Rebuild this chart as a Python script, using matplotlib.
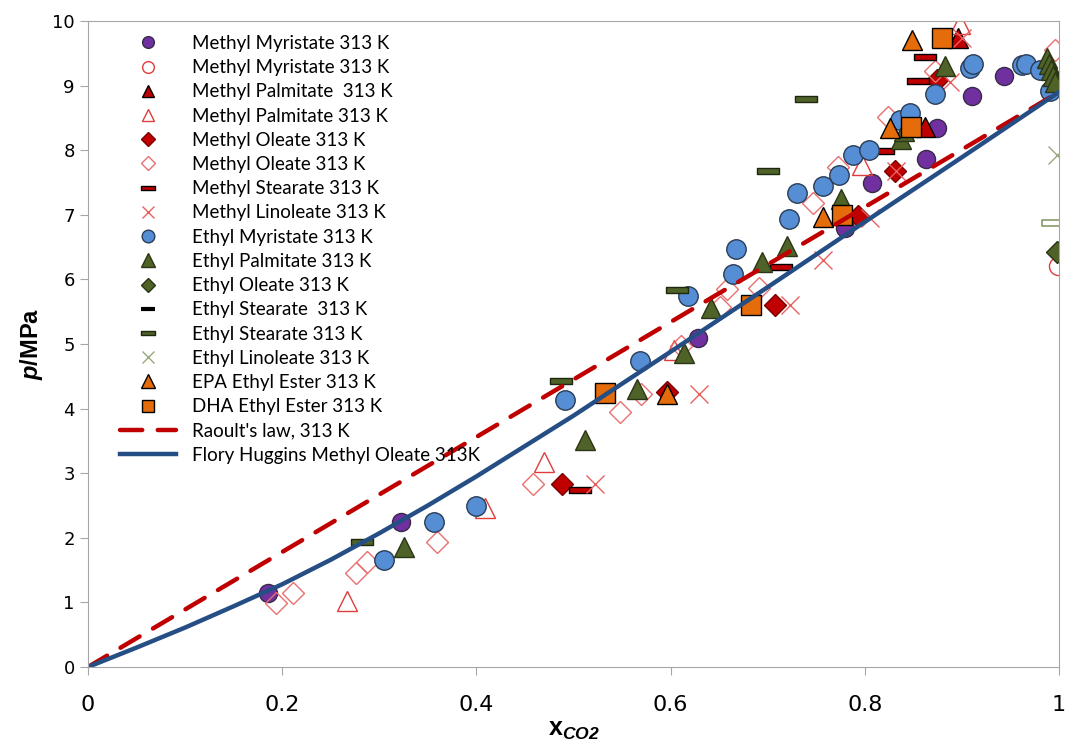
import matplotlib
matplotlib.use('Agg')
import matplotlib.pyplot as plt
from matplotlib.path import Path

plt.rcParams['mathtext.fontset'] = 'custom'
plt.rcParams['mathtext.rm'] = 'Liberation Sans'
plt.rcParams['mathtext.bf'] = 'Liberation Sans:bold'
plt.rcParams['mathtext.it'] = 'Liberation Sans:italic'
plt.rcParams['mathtext.bfit'] = 'Liberation Sans:italic:bold'

# data
mm_x = [0.185, 0.322, 0.628, 0.780, 0.807, 0.863, 0.874, 0.910, 0.943]
mm_y = [1.15, 2.25, 5.09, 6.79, 7.49, 7.86, 8.35, 8.84, 9.15]
mm2_x = [0.999]
mm2_y = [6.20]
mp_x = [0.862, 0.896]
mp_y = [8.36, 9.74]
mp2_x = [0.267, 0.409, 0.470, 0.603, 0.797, 0.898]
mp2_y = [1.02, 2.46, 3.18, 4.91, 7.77, 9.96]
mo_x = [0.488, 0.596, 0.708, 0.793, 0.831, 0.874]
mo_y = [2.84, 4.25, 5.61, 6.98, 7.67, 9.09]
mo2_x = [0.194, 0.211, 0.276, 0.287, 0.359, 0.458, 0.548, 0.570, 0.611, 0.651,
         0.658, 0.691, 0.747, 0.772, 0.824, 0.872, 0.996]
mo2_y = [0.99, 1.14, 1.45, 1.63, 1.93, 2.83, 3.94, 4.23, 4.97, 5.58,
         5.85, 5.86, 7.18, 7.74, 8.52, 9.22, 9.55]
ms_x = [0.507, 0.714, 0.819, 0.855, 0.862]
ms_y = [2.74, 6.19, 7.99, 9.07, 9.44]
ml_x = [0.522, 0.629, 0.723, 0.757, 0.805, 0.832, 0.888, 0.900]
ml_y = [2.84, 4.23, 5.61, 6.30, 6.95, 7.67, 9.06, 9.73]
em_x = [0.305, 0.356, 0.400, 0.491, 0.568, 0.618, 0.664, 0.667, 0.722, 0.730,
        0.757, 0.773, 0.788, 0.804, 0.836, 0.847, 0.872, 0.908, 0.911, 0.962,
        0.966, 0.980, 0.991]
em_y = [1.65, 2.24, 2.49, 4.13, 4.74, 5.74, 6.08, 6.47, 6.93, 7.34,
        7.45, 7.62, 7.93, 8.00, 8.47, 8.57, 8.87, 9.27, 9.33, 9.32,
        9.34, 9.24, 8.91]
ep_x = [0.325, 0.512, 0.565, 0.614, 0.642, 0.694, 0.720, 0.775, 0.837, 0.840,
        0.883, 0.988, 0.990, 0.992, 0.994, 0.996]
ep_y = [1.86, 3.52, 4.31, 4.86, 5.55, 6.27, 6.51, 7.24, 8.17, 8.30,
        9.30, 9.42, 9.33, 9.24, 9.15, 9.05]
eo_x = [0.998]
eo_y = [6.43]
es_x = [0.994]
es_y = [6.87]
es2_x = [0.282, 0.487, 0.607, 0.700, 0.739]
es2_y = [1.94, 4.43, 5.84, 7.68, 8.79]
el_x = [0.998]
el_y = [7.93]
epa_x = [0.596, 0.757, 0.826, 0.849]
epa_y = [4.23, 6.97, 8.35, 9.71]
dha_x = [0.532, 0.683, 0.777, 0.848, 0.879]
dha_y = [4.24, 5.61, 7.00, 8.36, 9.73]
raoult_x = [0.0, 1.0]
raoult_y = [0.0, 8.9]
fh_x = [0.0, 0.05, 0.1, 0.15, 0.2, 0.25, 0.3, 0.35, 0.4, 0.45, 0.5,
        0.6, 0.7, 0.8, 0.9, 1.0]
fh_y = [0.0, 0.30, 0.61, 0.94, 1.28, 1.66, 2.07, 2.50, 2.95, 3.42, 3.89,
        4.88, 5.88, 6.89, 7.89, 8.90]

bar = Path([(-1, -0.24), (1, -0.24), (1, 0.24), (-1, 0.24), (-1, -0.24)],
           [Path.MOVETO, Path.LINETO, Path.LINETO, Path.LINETO, Path.CLOSEPOLY])

fig = plt.figure(figsize=(10.65, 7.49), dpi=100)
ax = fig.add_axes([0.0826, 0.1095, 0.9118, 0.8625])

ax.plot(mm_x, mm_y, 'o', ms=13, mfc='#7030A0', mec='#3a2a4a', mew=1, ls='none', label='Methyl Myristate 313 K')
ax.plot(mm2_x, mm2_y, 'o', ms=13, mfc='none', mec='#e03c3c', mew=1, ls='none', label='Methyl Myristate 313 K')
ax.plot(mp_x, mp_y, '^', ms=14, mfc='#C00000', mec='black', mew=1, ls='none', label='Methyl Palmitate  313 K')
ax.plot(mp2_x, mp2_y, '^', ms=14, mfc='none', mec='#e03c3c', mew=1, ls='none', label='Methyl Palmitate 313 K')
ax.plot(mo_x, mo_y, 'D', ms=11, mfc='#C00000', mec='#7a0000', mew=1, ls='none', label='Methyl Oleate 313 K')
ax.plot(mo2_x, mo2_y, 'D', ms=11, mfc='none', mec='#e87070', mew=1, ls='none', label='Methyl Oleate 313 K')
ax.plot(ms_x, ms_y, marker=bar, ms=16, mfc='#C00000', mec='black', mew=1, ls='none', label='Methyl Stearate 313 K')
ax.plot(ml_x, ml_y, 'x', ms=13, mec='#e86060', mew=1, ls='none', label='Methyl Linoleate 313 K')
ax.plot(em_x, em_y, 'o', ms=14, mfc='#558ED5', mec='#2a3d55', mew=1, ls='none', label='Ethyl Myristate 313 K')
ax.plot(ep_x, ep_y, '^', ms=15, mfc='#4F6228', mec='#2b3515', mew=1, ls='none', label='Ethyl Palmitate 313 K')
ax.plot(eo_x, eo_y, 'D', ms=11, mfc='#4F6228', mec='#2b3515', mew=1, ls='none', label='Ethyl Oleate 313 K')
ax.plot(es_x, es_y, marker=bar, ms=16, mfc='white', mec='#8a9a6a', mew=1.2, ls='none')
ax.plot([], [], '_', ms=16, mec='black', mew=3, ls='none', label='Ethyl Stearate  313 K')
ax.plot(es2_x, es2_y, marker=bar, ms=16, mfc='#4F6228', mec='#1e2810', mew=1, ls='none', label='Ethyl Stearate 313 K')
ax.plot(el_x, el_y, 'x', ms=13, mec='#9aaa80', mew=1, ls='none', label='Ethyl Linoleate 313 K')
ax.plot(epa_x, epa_y, '^', ms=15, mfc='#E46C0A', mec='black', mew=1, ls='none', label='EPA Ethyl Ester 313 K')
ax.plot(dha_x, dha_y, 's', ms=14, mfc='#E46C0A', mec='black', mew=1, ls='none', label='DHA Ethyl Ester 313 K')
ax.plot(raoult_x, raoult_y, color='#C00000', lw=3.2, ls=(0, (5, 3.5)),
        dash_capstyle='round', label="Raoult's law, 313 K")
ax.plot(fh_x, fh_y, color='#254E85', lw=3.2, label='Flory Huggins Methyl Oleate 313K')

ax.set_xlim(0, 1)
ax.set_ylim(0, 10)
ax.set_xticks([0, 0.2, 0.4, 0.6, 0.8, 1.0])
ax.set_xticklabels(['0', '0.2', '0.4', '0.6', '0.8', '1'])
ax.set_yticks(range(0, 11))
for s in ax.spines.values():
    s.set_color('#a6a6a6')
ax.tick_params(direction='out', length=6, color='#a6a6a6')
for t in ax.get_xticklabels():
    t.set_family(['Liberation Sans Narrow', 'DejaVu Sans'])
    t.set_fontsize(16)
for t in ax.get_yticklabels():
    t.set_family('DejaVu Sans')
    t.set_fontsize(13)
ax.tick_params(axis='x', pad=14)

ax.set_xlabel(r'$\mathbf{x}_{\mathbfit{CO2}}$', fontsize=18, labelpad=2)
ax.set_ylabel(r'$\mathbfit{p}\mathbf{/MPa}$', fontsize=17, labelpad=5)

leg = ax.legend(loc='upper left', bbox_to_anchor=(0.025, 0.99), frameon=False,
                prop={'family': 'Lato', 'size': 13.5}, labelspacing=0.385,
                handlelength=3.0, handletextpad=0.85, borderaxespad=0,
                markerscale=0.65)

plt.savefig('out.png', dpi=100)
